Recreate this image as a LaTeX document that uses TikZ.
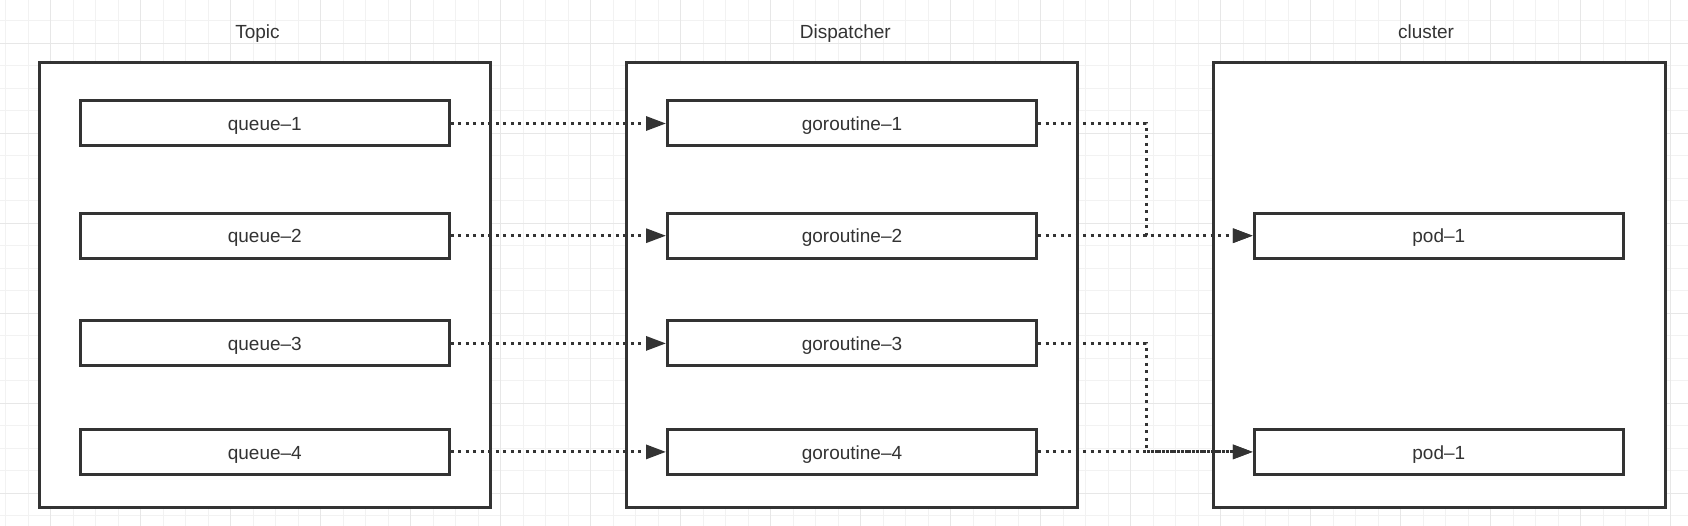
\documentclass[tikz,border=0pt]{standalone}
\usepackage{fontspec}
\setmainfont{Liberation Sans}
\usetikzlibrary{arrows.meta,calc}
\definecolor{ink}{HTML}{333333}
\definecolor{gridminor}{HTML}{F2F2F2}
\definecolor{gridmajor}{HTML}{E7E7E7}
\begin{document}
\begin{tikzpicture}[x=1pt,y=-1pt,
  container/.style={draw=ink,line width=3pt,fill=white},
  item/.style={draw=ink,line width=3pt,fill=white,minimum width=369pt,minimum height=45pt,inner sep=0pt,
    text=ink,font=\fontsize{19}{22}\selectfont,text height=14.5pt,text depth=0pt},
  title/.style={text=ink,font=\fontsize{19}{22}\selectfont,inner sep=0pt,anchor=base},
  link/.style={draw=ink,line width=3pt,dash pattern=on 3pt off 4.5pt,
    -{Triangle[length=20pt,width=14pt]}}]
\useasboundingbox (0,0) rectangle (1688,526);
\fill[white] (0,0) rectangle (1688,526);
% grid
\foreach \i in {0,...,75}{\draw[gridminor,line width=1pt] ({5.7+22.5*\i},0) -- ({5.7+22.5*\i},526);}
\foreach \j in {0,...,23}{\draw[gridminor,line width=1pt] (0,{20.7+22.5*\j}) -- (1688,{20.7+22.5*\j});}
\foreach \i in {0,...,18}{\draw[gridmajor,line width=1pt] ({50.7+90*\i},0) -- ({50.7+90*\i},526);}
\foreach \j in {0,...,5}{\draw[gridmajor,line width=1pt] (0,{43.3+90*\j}) -- (1688,{43.3+90*\j});}
% containers
\path[container] (39.2,62.5) rectangle (490.3,507);
\path[container] (626.5,62.5) rectangle (1077.6,507);
\path[container] (1213.5,62.5) rectangle (1665,507);
% titles
\node[title] (ttopic) at (257.5,39) {Topic};
\node[title] (tdisp) at (845.3,39) {Dispatcher};
\node[title] (tclus) at (1426,39) {cluster};
% items
\node[item] (q1) at (264.8,123.5) {queue–1};
\node[item] (q2) at (264.8,235.7) {queue–2};
\node[item] (q3) at (264.8,343.4) {queue–3};
\node[item] (q4) at (264.8,451.9) {queue–4};
\node[item] (g1) at (852,123.5) {goroutine–1};
\node[item] (g2) at (852,235.7) {goroutine–2};
\node[item] (g3) at (852,343.4) {goroutine–3};
\node[item] (g4) at (852,451.9) {goroutine–4};
\node[item] (p1) at (1438.8,235.7) {pod–1};
\node[item] (p2) at (1438.8,451.9) {pod–1};
\coordinate (bend) at (1146,0);
% connectors
\draw[link] (q1.east) -- (g1.west);
\draw[link] (q2.east) -- (g2.west);
\draw[link] (q3.east) -- (g3.west);
\draw[link] (q4.east) -- (g4.west);
\draw[link] (g1.east) -- (g1.east -| bend) |- (p1.west);
\draw[link] (g2.east) -- (p1.west);
\draw[link] (g3.east) -- (g3.east -| bend) |- (p2.west);
\draw[link] (g4.east) -- (p2.west);
\end{tikzpicture}
\end{document}
